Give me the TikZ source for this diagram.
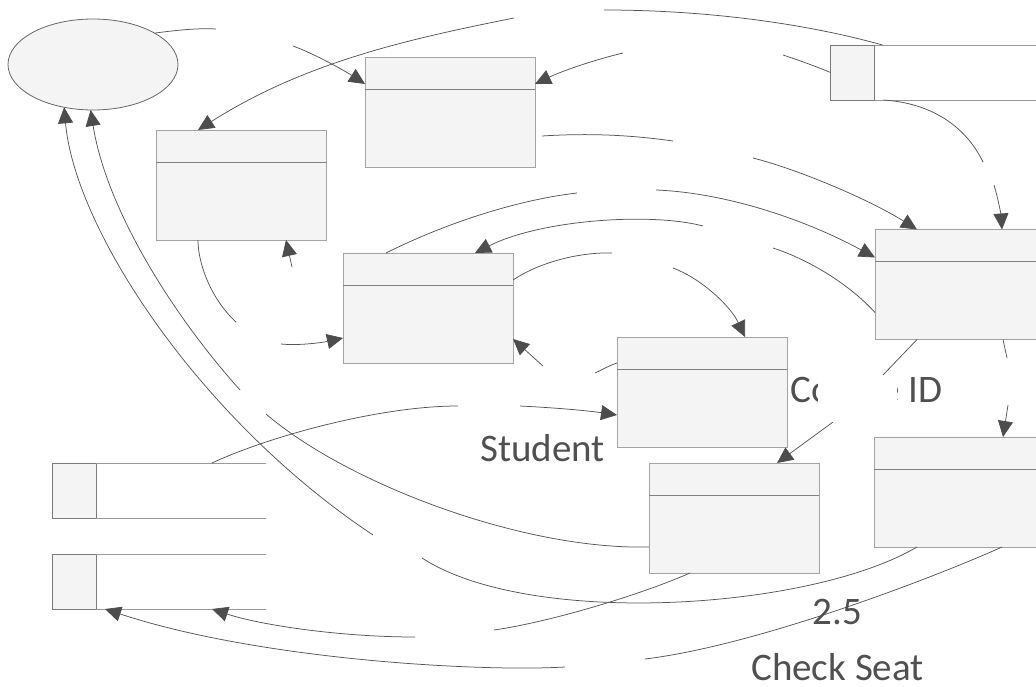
\documentclass[tikz,border=0pt]{standalone}
\usepackage{fontspec}
\setmainfont{Carlito}
\usetikzlibrary{arrows.meta,shapes.geometric}
\definecolor{linec}{HTML}{555555}
\definecolor{tipc}{HTML}{4D4D4D}
\definecolor{boxfill}{HTML}{F4F4F4}
\definecolor{boxdraw}{HTML}{A3A3A3}
\definecolor{divc}{HTML}{808080}
\definecolor{dsdraw}{HTML}{7A7A7A}
\definecolor{dsline}{HTML}{9A9A9A}
\definecolor{txtc}{HTML}{505050}
\begin{document}
\begin{tikzpicture}[x=1pt,y=-1pt,
  conn/.style={draw=linec, line width=0.75pt},
  arr/.style={conn, -{Triangle[length=16pt,width=15pt,color=tipc]}},
  procbox/.style={draw=boxdraw, fill=boxfill, line width=0.8pt, minimum width=170pt, minimum height=110pt, inner sep=0pt, outer sep=0pt},
  dsbox/.style={draw=dsdraw, fill=boxfill, line width=0.8pt, minimum width=44pt, minimum height=55pt, inner sep=0pt, outer sep=0pt},
  dsopen/.style={draw=dsline, line width=0.8pt},
  ellbox/.style={ellipse, draw=black!60, fill=boxfill, line width=0.8pt, minimum width=170pt, minimum height=91pt, inner sep=0pt, outer sep=0pt},
  lbl/.style={text=txtc, font=\fontsize{39}{47}\selectfont, inner sep=0pt, anchor=base},
  maskbox/.style={fill=white, draw=none, inner sep=0pt, minimum width=79pt, minimum height=47pt}]
\clip (0,0) rectangle (1036,687);

% external entity
\node[ellbox] (ell) at (93,64.5) {};

% processes
\node[procbox] (pA) at (450,112) {};
\node[procbox] (pB) at (241,185) {};
\node[procbox] (pC) at (428,308) {};
\node[procbox] (pD) at (702,392) {};
\node[procbox] (pE) at (734,518) {};
\node[procbox] (pF) at (960,284.5) {};
\node[procbox] (pG) at (959,492) {};
\foreach \n in {pA,pB,pC,pD,pE,pF,pG}
  \draw[divc, line width=0.8pt] ([yshift=-32pt]\n.north west) -- ([yshift=-32pt]\n.north east);

% data stores
\node[dsbox] (dsTR) at (852.5,72.5) {};
\draw[dsopen] (dsTR.north east) -- ++(175,0);
\draw[dsopen] (dsTR.south east) -- ++(175,0);
\node[dsbox] (dsL1) at (74,490.5) {};
\draw[dsopen] (dsL1.north east) -- ++(170,0);
\draw[dsopen] (dsL1.south east) -- ++(170,0);
\node[dsbox] (dsL2) at (74,581.5) {};
\draw[dsopen] (dsL2.north east) -- ++(170,0);
\draw[dsopen] (dsL2.south east) -- ++(170,0);

% free ends at label gaps
\coordinate (a1) at (216,29);   \coordinate (a2) at (293,46);
\coordinate (b1) at (604,10);   \coordinate (b2) at (514,18);
\coordinate (c1) at (783,55);   \coordinate (c2) at (623,53);
\coordinate (d1) at (673,141);  \coordinate (d2) at (753,158);
\coordinate (e1) at (983,162);  \coordinate (e2) at (994,185);
\coordinate (f1) at (577,193);  \coordinate (f2) at (656,190);
\coordinate (g1) at (773,248);  \coordinate (g2) at (703,226);
\coordinate (h1) at (612,253);  \coordinate (h2) at (673,268);
\coordinate (i1) at (236,322);  \coordinate (i2) at (281,344);
\coordinate (j1) at (458,406);  \coordinate (j2) at (520,406);
\coordinate (k1) at (422,558);  \coordinate (k2) at (373,535);
\coordinate (l1) at (266,414);  \coordinate (l2) at (240,390);
\coordinate (m1) at (494,630);  \coordinate (m2) at (415,637);
\coordinate (n1) at (645,659);  \coordinate (n2) at (565,667);
\coordinate (o1) at (883,375);  \coordinate (o2) at (833,422);
\coordinate (p1) at (1007,358); \coordinate (p2) at (1008,405);
\coordinate (q) at (292,267);   \coordinate (r) at (543,366);
\coordinate (s) at (595,373);

% connectors
\draw[conn] (ell.27) .. controls (178,30) and (198,28) .. (a1);
\draw[arr] (a2) .. controls (315,54) and (345,71) .. ([yshift=-27pt]pA.north west);
\draw[conn] ([xshift=8pt]dsTR.north east) .. controls (800,22) and (700,10) .. (b1);
\draw[arr] (b2) .. controls (409,39) and (305,62) .. ([xshift=42pt]pB.north west);
\draw[conn] (dsTR.west) .. controls (815,66) and (798,60) .. (c1);
\draw[arr] (c2) .. controls (590,61) and (560,72) .. ([yshift=-27pt]pA.north east);
\draw[conn] ([xshift=7pt,yshift=-79pt]pA.north east) .. controls (590,133) and (630,135) .. (d1);
\draw[arr] (d2) .. controls (800,170) and (870,200) .. ([xshift=42pt]pF.north west);
\draw[conn] ([xshift=9pt]dsTR.south east) .. controls (930,103) and (965,125) .. (e1);
\draw[arr] (e2) .. controls (998,198) and (1001,215) .. ([xshift=127pt]pF.north west);
\draw[conn] ([xshift=43pt]pC.north west) .. controls (446,223) and (517,200) .. (f1);
\draw[arr] (f2) .. controls (730,193) and (810,222) .. ([yshift=-28pt]pF.north west);
\draw[conn] ([yshift=-83pt]pF.north west) .. controls (850,285) and (810,260) .. (g1);
\draw[arr] (g2) .. controls (650,212) and (540,220) .. ([xshift=132pt]pC.north west);
\draw[conn] ([yshift=-27pt]pC.north east) .. controls (540,262) and (580,252) .. (h1);
\draw[arr] (h2) .. controls (700,278) and (730,305) .. ([xshift=128pt]pD.north west);
\draw[conn] ([xshift=42pt]pB.south west) .. controls (198,265) and (212,300) .. (i1);
\draw[arr] (i2) .. controls (300,346) and (325,342) .. ([yshift=-85pt]pC.north west);
\draw[arr] (q) -- ([xshift=130pt]pB.south west);
\draw[arr] (r) -- ([yshift=-86pt]pC.north east);
\draw[conn] ([yshift=-26pt]pD.north west) .. controls (608,366) and (602,370) .. (s);
\draw[conn] ([xshift=116pt]dsL1.north east) .. controls (270,436) and (380,406) .. (j1);
\draw[arr] (j2) .. controls (560,408) and (590,411) .. ([yshift=-78pt]pD.north west);
\draw[conn] ([xshift=43pt]pG.south west) .. controls (810,610) and (530,628) .. (k1);
\draw[arr] (k2) .. controls (200,420) and (75,230) .. (ell.236);
\draw[conn] ([yshift=-84pt]pE.north west) .. controls (520,550) and (345,482) .. (l1);
\draw[arr] (l2) .. controls (170,312) and (106,207) .. (ell.267);
\draw[conn] ([xshift=41pt]pE.south west) .. controls (640,595) and (550,622) .. (m1);
\draw[arr] (m2) .. controls (340,637) and (260,625) .. ([xshift=116pt]dsL2.south east);
\draw[conn] ([xshift=128pt]pG.south west) .. controls (940,575) and (760,645) .. (n1);
\draw[arr] (n2) .. controls (480,672) and (260,660) .. ([xshift=9pt]dsL2.south east);
\draw[conn] ([xshift=42pt]pF.south west) -- (o1);
\draw[arr] (o2) -- ([xshift=128pt]pE.north west);
\draw[conn] ([xshift=128pt]pF.south west) -- (p1);
\draw[arr] (p2) -- ([xshift=129pt]pG.north west);

% labels
\node[lbl] (tStudent) at (542.5,461) {Student};
\node[lbl] (tCourse) at (866.5,402) {Course ID};
\node[maskbox] (mask) at (857.5,398.5) {};
\node[lbl] (t25) at (837.5,624) {2.5};
\node[lbl] (tCheck) at (837.5,680) {Check Seat};
\end{tikzpicture}
\end{document}
